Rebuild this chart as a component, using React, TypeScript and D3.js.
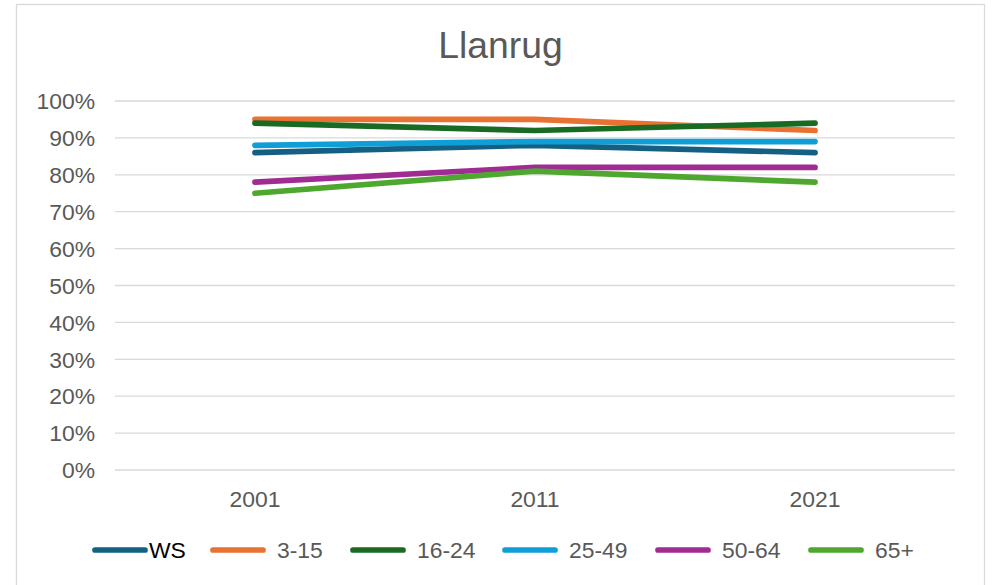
import React from "react";
import * as d3 from "d3";

const years = ["2001", "2011", "2021"];
const seriesNames = ["WS", "3-15", "16-24", "25-49", "50-64", "65+"];
const wsValues = [0.86, 0.88, 0.86];
const age3to15 = [0.95, 0.95, 0.92];
const age16to24 = [0.94, 0.92, 0.94];
const age25to49 = [0.88, 0.89, 0.89];
const age50to64 = [0.78, 0.82, 0.82];
const age65plus = [0.75, 0.81, 0.78];
const yTicks = [0, 0.1, 0.2, 0.3, 0.4, 0.5, 0.6, 0.7, 0.8, 0.9, 1.0];
const colors = ["#156082", "#E97132", "#196B24", "#0F9ED5", "#A02B93", "#4EA72E"];

const allValues = [wsValues, age3to15, age16to24, age25to49, age50to64, age65plus];

const W = 993;
const H = 585;
const FONT = "'Liberation Sans', Arial, Helvetica, sans-serif";
const TEXT = "#595959";
const GRID = "#D9D9D9";
const LEGEND_X = [93, 211, 351, 503, 656, 809];

export default function App() {
  const x = d3.scaleBand<string>().domain(years).range([115, 955]);
  const y = d3.scaleLinear().domain([0, 1]).range([470, 101]);
  const cx = (d: string) => (x(d) as number) + x.bandwidth() / 2;
  const line = d3
    .line<number>()
    .x((_, i) => cx(years[i]))
    .y((v) => y(v));

  return (
    <svg
      width={W}
      height={H}
      style={{ position: "fixed", left: 0, top: 0, background: "#fff" }}
      fontFamily={FONT}
    >
      <rect x={0} y={0} width={W} height={H} fill="#fff" />
      <rect x={16.5} y={4.5} width={968} height={600} fill="#fff" stroke={GRID} strokeWidth={1.3} />
      <text x={500.5} y={57.5} textAnchor="middle" fontSize={37.3} fill={TEXT}>
        Llanrug
      </text>
      {yTicks.map((t) => (
        <g key={t}>
          <line x1={115} x2={955} y1={y(t)} y2={y(t)} stroke={GRID} strokeWidth={1.3} />
          <text x={95} y={y(t)} dy="0.36em" textAnchor="end" fontSize={22.9} fill={TEXT}>
            {d3.format(".0%")(t)}
          </text>
        </g>
      ))}
      {years.map((yr) => (
        <text key={yr} x={cx(yr)} y={506.5} textAnchor="middle" fontSize={22.9} fill={TEXT}>
          {yr}
        </text>
      ))}
      {allValues.map((vals, i) => (
        <path
          key={seriesNames[i]}
          d={line(vals) || ""}
          fill="none"
          stroke={colors[i]}
          strokeWidth={5.7}
          strokeLinecap="round"
          strokeLinejoin="round"
        />
      ))}
      {seriesNames.map((name, i) => (
        <g key={name} transform={`translate(${LEGEND_X[i]},550)`}>
          <line x1={2} x2={52} y1={0} y2={0} stroke={colors[i]} strokeWidth={5.7} strokeLinecap="round" />
          <text x={i === 0 ? 56 : 66} y={0} dy="0.36em" fontSize={22.9} fill={i === 0 ? "#000" : TEXT}>
            {name}
          </text>
        </g>
      ))}
    </svg>
  );
}
